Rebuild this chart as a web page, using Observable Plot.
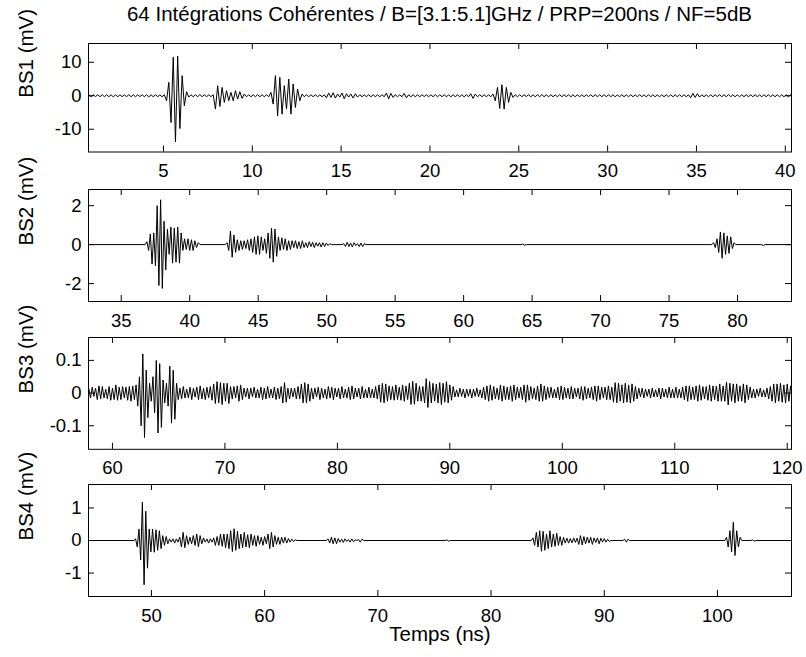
<!DOCTYPE html>
<html><head><meta charset="utf-8">
<script src="https://cdn.jsdelivr.net/npm/d3@7"></script>
<script src="https://cdn.jsdelivr.net/npm/@observablehq/plot@0.6"></script>
<style>
html,body{margin:0;padding:0;background:#fff;}
#fig{position:relative;width:806px;height:657px;background:#fff;font-family:"Liberation Sans",Arial,Helvetica,sans-serif;color:#000;}
#fig svg{position:absolute;left:0;background:transparent;}
#title{position:absolute;left:88px;width:703px;top:4px;text-align:center;font-size:20.5px;line-height:20.5px;white-space:nowrap;}
</style></head>
<body><div id="fig"><div id="title">64 Intégrations Cohérentes / B=[3.1:5.1]GHz / PRP=200ns / NF=5dB</div></div>
<script>
// ---- BS1 : one record, 0.125 ns sampling, mV ----
const bs1Step = 0.125;
const bs1Starts = [0.8];
const bs1Values = [
0.3,-0.3,0.3,-0.25,0.3,-0.3,0.35,-0.3,0.3,-0.3,
0.3,-0.35,0.3,-0.3,0.25,-0.3,0.3,-0.3,0.35,-0.3,
0.3,-0.3,0.3,-0.25,0.3,-0.3,0.3,-0.35,0.3,-0.3,
0.3,-0.3,0.25,-0.3,0.3,-1.5,4,-8,11.5,-13.8,
11.8,-9.8,6,-3,1.2,-0.4,0.3,-0.3,0.3,-0.3,
0.35,-0.3,0.3,-0.3,0.3,-0.25,0.3,-4,3,-3.2,
2.5,-2,1.5,-1.5,1,-1.5,1.5,-1,1.2,-0.8,
0.5,-0.3,0.3,-0.3,0.3,-0.3,0.35,-0.3,0.3,-0.3,
0.3,-0.3,1,-2.5,6,-6,5.5,-5.5,3,-4,
5,-5.5,3.5,-3.5,2,-1.5,0.5,-0.3,0.3,-0.3,
0.3,-0.3,0.3,-0.3,0.25,-0.3,0.3,-0.6,0.8,-0.5,
0.9,-0.7,0.5,-0.4,0.8,-0.9,0.6,-0.4,0.5,-0.7,
0.6,-0.4,0.3,-0.3,0.3,-0.3,0.3,-0.3,0.3,-0.3,
0.3,-0.3,0.3,-0.3,0.8,-0.9,0.7,-0.5,0.3,-0.3,
0.3,-0.3,0.7,-0.6,0.3,-0.3,0.3,-0.3,0.3,-0.3,
0.3,-0.25,0.3,-0.3,0.3,-0.3,0.35,-0.3,0.3,-0.3,
0.3,-0.3,0.25,-0.3,0.3,-0.3,0.3,-0.3,0.3,-0.35,
0.3,-0.3,0.6,-0.8,0.5,-0.3,0.3,-0.3,0.3,-0.3,
0.3,-0.3,0.5,-1.5,2.5,-3.8,3.3,-4,2.5,-2,
1,-0.5,0.3,-0.3,0.3,-0.3,0.3,-0.25,0.3,-0.3,
0.3,-0.3,0.3,-0.3,0.35,-0.3,0.3,-0.3,0.3,-0.3,
0.25,-0.3,0.3,-0.3,0.3,-0.3,0.3,-0.35,0.3,-0.3,
0.3,-0.3,0.3,-0.3,0.3,-0.25,0.3,-0.3,0.3,-0.3,
0.3,-0.3,0.35,-0.3,0.3,-0.3,0.3,-0.3,0.25,-0.3,
0.3,-0.3,0.3,-0.3,0.3,-0.3,0.3,-0.3,0.3,-0.3,
0.3,-0.35,0.3,-0.3,0.3,-0.3,0.25,-0.3,0.3,-0.3,
0.3,-0.3,0.3,-0.3,0.3,-0.3,0.3,-0.3,0.3,-0.3,
0.3,-0.6,0.7,-0.5,0.6,-0.4,0.3,-0.3,0.3,-0.3,
0.3,-0.3,0.3,-0.25,0.3,-0.3,0.3,-0.3,0.35,-0.3,
0.3,-0.3,0.3,-0.3,0.3,-0.3,0.3,-0.3,0.3,-0.3,
0.3,-0.3,0.25,-0.3,0.3,-0.3,0.3,-0.3,0.3,-0.3,
0.3,-0.3,0.3,-0.3,0.3,-0.3,0.3
];
const bs1XTicks = [5,10,15,20,25,30,35,40];
const bs1YTicks = [-10,0,10];

// ---- BS2 : bursts, 0.125 ns sampling, mV (flat zero between) ----
const bs2Step = 0.125;
const bs2Starts = [36.75, 42.6, 51.125, 64.2, 78.125, 81.75];
const bs2BurstA = [0,0.15,-0.3,0.55,-1.0,0.6,-1.1,2.0,-2.1,2.3,-2.25,1.2,-1.3,0.8,-0.5,0.9,-0.95,0.85,-0.9,0.9,-0.95,0.6,-0.3,0.3,-0.25,0.3,-0.3,0.25,-0.3,0.2,-0.15,0.1,0];
const bs2BurstB = [0,0.1,-0.3,0.7,-0.65,0.5,-0.4,0.25,-0.3,0.2,-0.25,0.2,-0.2,0.25,-0.3,0.3,-0.4,0.4,-0.5,0.45,-0.5,0.4,-0.3,0.3,-0.45,0.6,-0.7,0.85,-0.9,0.8,-0.6,0.4,-0.3,0.35,-0.25,0.3,-0.3,0.2,-0.25,0.2,-0.15,0.2,-0.2,0.15,-0.2,0.2,-0.15,0.1,-0.15,0.15,-0.1,0.12,-0.15,0.1,-0.08,0.1,-0.12,0.1,-0.1,0.08,-0.05,0.05,0];
const bs2BurstC = [0,0.05,-0.1,0.12,-0.1,0.08,-0.12,0.1,-0.05,0.05,-0.1,0.08,-0.1,0.05,0];
const bs2BurstD = [0,0.03,-0.03,0];
const bs2BurstE = [0,0.1,-0.15,0.3,-0.4,0.65,-0.7,0.6,-0.5,0.45,-0.45,0.4,-0.2,0.1,0];
const bs2BurstF = [0,-0.05,0];
const bs2XTicks = [35,40,45,50,55,60,65,70,75,80];
const bs2YTicks = [-2,0,2];

// ---- BS3 : one record, 0.15 ns sampling, mV ----
const bs3Step = 0.15;
const bs3Starts = [57.9];
const bs3Values = [
0.012,-0.015,0.018,-0.01,0.015,-0.02,0.022,-0.018,0.02,-0.015,
0.012,-0.018,0.02,-0.022,0.015,-0.02,0.025,-0.022,0.018,-0.02,
0.02,-0.015,0.018,-0.022,0.02,-0.025,0.022,-0.02,0.025,
-0.04,0.05,-0.1,0.12,-0.136,0.07,-0.075,0.03,-0.025,
0.05,-0.06,0.1,-0.122,0.09,-0.105,0.04,-0.03,
0.03,-0.04,0.082,-0.092,0.07,-0.08,0.03,-0.02,
0.015,-0.018,0.02,-0.015,0.012,-0.015,0.018,-0.02,0.015,-0.012,
0.018,-0.02,0.022,-0.018,0.015,-0.02,0.018,-0.015,0.02,-0.022,
0.028,-0.032,0.035,-0.03,0.032,-0.035,0.03,-0.025,
0.03,-0.032,0.02,-0.018,0.02,-0.015,
0.022,-0.025,0.025,-0.02,
0.015,-0.012,0.015,-0.018,0.015,-0.012,0.018,-0.015,0.012,-0.015,
0.018,-0.02,0.015,-0.018,0.02,-0.015,0.012,-0.015,0.018,-0.02,0.015,-0.018,0.02,
-0.03,0.032,-0.028,
0.015,-0.018,0.015,-0.012,0.015,-0.018,0.02,-0.018,
0.028,-0.03,0.032,-0.03,0.028,-0.025,
0.015,-0.018,0.015,-0.012,0.018,-0.02,0.015,-0.015,0.012,-0.018,
0.02,-0.015,0.018,-0.02,0.015,-0.012,0.015,-0.018,0.02,-0.015,
0.012,-0.015,0.018,-0.02,0.022,-0.018,0.015,-0.012,0.015,-0.018,
0.02,-0.015,0.012,-0.015,0.018,-0.015,0.012,-0.015,0.02,-0.018,
0.025,-0.028,0.03,-0.03,0.028,-0.025,0.022,-0.02,
0.02,-0.022,0.025,-0.02,0.018,-0.022,0.025,-0.025,0.022,-0.02,
0.03,-0.035,0.036,-0.034,0.03,
-0.025,0.022,-0.025,0.02,-0.03,
0.044,-0.044,0.035,
-0.03,0.03,-0.025,0.028,-0.03,0.032,-0.035,0.03,-0.028,0.035,-0.03,0.025,-0.022,0.02,
-0.012,0.01,-0.012,0.015,-0.01,0.012,-0.015,0.012,-0.01,0.012,-0.015,0.012,-0.01,0.015,-0.012,0.01,-0.015,
0.018,-0.02,0.022,-0.025,0.025,-0.022,0.02,-0.018,0.015,-0.02,
0.025,-0.025,0.022,-0.02,0.018,-0.02,0.022,-0.025,0.025,-0.02,
0.018,-0.015,0.018,-0.02,0.025,-0.028,0.025,-0.022,0.02,-0.018,
0.015,-0.02,0.022,-0.025,0.028,-0.025,0.022,-0.02,0.018,-0.015,
0.018,-0.015,0.012,-0.015,0.018,-0.02,0.022,-0.02,0.018,-0.015,
0.015,-0.018,0.02,-0.018,0.015,-0.012,0.015,-0.018,0.02,-0.022,
0.02,-0.018,0.015,-0.015,0.018,-0.02,0.022,-0.025,0.022,-0.02,
0.018,-0.015,0.018,-0.02,0.022,-0.02,0.018,
-0.028,0.032,-0.03,0.03,-0.025,
0.025,-0.03,0.03,-0.028,0.025,-0.03,0.028,-0.025,0.02,-0.018,0.015,
-0.012,0.015,-0.015,0.012,-0.01,0.012,-0.015,0.015,-0.012,0.01,
-0.012,0.015,-0.018,0.015,-0.012,0.012,-0.015,0.018,-0.015,0.012,
-0.015,0.018,-0.015,0.012,-0.015,0.018,
-0.02,0.022,-0.025,0.022,-0.02,0.018,-0.02,0.022,-0.025,0.025,
-0.022,0.02,-0.018,0.02,-0.022,0.025,-0.025,0.022,-0.02,0.022,
-0.025,0.028,-0.025,0.022,-0.025,
0.034,-0.036,0.03,
-0.025,0.028,-0.03,0.028,-0.025,0.022,-0.025,0.028,-0.03,0.025,-0.02,0.018,
-0.015,0.012,-0.015,0.012,-0.01,0.015,-0.012,0.01,-0.012,0.015,-0.018,0.02,
-0.025,0.028,-0.03,0.028,-0.025,0.03,-0.028,0.025,-0.03,0.028,-0.025,0.022
];
const bs3XTicks = [60,70,80,90,100,110,120];
const bs3YTicks = [-0.1,0,0.1];

// ---- BS4 : bursts, 0.15 ns sampling, mV (flat zero between) ----
const bs4Step = 0.15;
const bs4Starts = [48.45, 65.45, 75.95, 83.55, 91.65, 100.65, 102.95];
const bs4BurstA = [0,0.05,-0.2,0.35,-0.6,1.18,-1.36,0.9,-0.85,0.35,-0.35,0.35,-0.36,0.33,-0.3,0.3,-0.25,0.15,-0.15,0.12,-0.1,0.05,-0.05,0.05,-0.08,0.05,-0.05,0.1,-0.2,0.25,-0.22,0.15,-0.12,0.1,-0.1,0.15,-0.15,0.2,-0.2,0.15,-0.1,0.08,-0.05,0.05,-0.08,0.05,-0.05,0.08,-0.15,0.12,-0.15,0.2,-0.18,0.2,-0.22,0.2,-0.25,0.3,-0.34,0.36,-0.3,0.28,-0.25,0.2,-0.22,0.25,-0.2,0.18,-0.22,0.2,-0.15,0.15,-0.18,0.15,-0.12,0.1,-0.15,0.12,-0.1,0.2,-0.25,0.25,-0.2,0.15,-0.12,0.1,-0.12,0.1,-0.08,0.1,-0.08,0.06,-0.05,0.04,-0.03,0.02,0];
const bs4BurstB = [0,0.05,-0.08,0.1,-0.1,0.08,-0.1,0.06,-0.05,0.04,-0.06,0.05,-0.03,0.03,-0.05,0.05,-0.04,0.02,0,0.03,-0.05,0.04,0];
const bs4BurstC = [0,0.02,-0.02,0];
const bs4BurstD = [0,0.08,-0.15,0.25,-0.2,0.3,-0.33,0.28,-0.3,0.2,-0.25,0.3,-0.2,0.2,-0.18,0.22,-0.15,0.12,-0.15,0.1,-0.08,0.07,-0.08,0.06,-0.07,0.08,-0.06,0.07,-0.12,0.15,-0.14,0.12,-0.1,0.1,-0.08,0.1,-0.12,0.08,-0.06,0.08,-0.1,0.07,-0.05,0.06,-0.05,0.04,-0.03,0];
const bs4BurstE = [0,0.04,-0.05,0.04,0];
const bs4BurstF = [0,0.1,-0.2,0.3,-0.35,0.56,-0.46,0.3,-0.2,0.1,0];
const bs4BurstG = [0,0.02,-0.02,0];
const bs4XTicks = [50,60,70,80,90,100];
const bs4YTicks = [-1,0,1];

const titleText = "64 Intégrations Cohérentes / B=[3.1:5.1]GHz / PRP=200ns / NF=5dB";
const xLabelText = "Temps (ns)";

// ---- layout ----
const W = 806, ML = 88, MR = 15, TICK = 6;
const FONT = "'Liberation Sans', Arial, Helvetica, sans-serif";
const fig = document.getElementById("fig");

function makePanel(cfg) {
  const {starts, bursts, step, xDomain, yDomain, xTicks, yTicks, yLabel, boxTop, boxBottom, xLabel} = cfg;
  const mt = 12, mb = xLabel ? 62 : 34;
  const frameH = boxBottom - boxTop, frameW = W - ML - MR;
  const pts = [{t: xDomain[0], v: 0}];
  starts.forEach((s, b) => bursts[b].forEach((v, k) => pts.push({t: s + k * step, v})));
  pts.push({t: xDomain[1], v: 0});
  const marks = [
    Plot.line(pts, {x: "t", y: "v", stroke: "black", strokeWidth: 1, clip: true}),
    Plot.frame({stroke: "black", strokeWidth: 1}),
    Plot.ruleX(xTicks, {x: d => d, stroke: "black", insetTop: frameH - TICK}),
    Plot.ruleX(xTicks, {x: d => d, stroke: "black", insetBottom: frameH - TICK}),
    Plot.ruleY(yTicks, {y: d => d, stroke: "black", insetRight: frameW - TICK}),
    Plot.ruleY(yTicks, {y: d => d, stroke: "black", insetLeft: frameW - TICK}),
    Plot.axisX(xTicks, {anchor: "bottom", tickSize: 0, tickPadding: 12, tickFormat: d => String(d), label: null, fontSize: 18.5}),
    Plot.axisY(yTicks, {anchor: "left", tickSize: 0, tickPadding: 7, tickFormat: d => String(d), label: null, fontSize: 18.5}),
    Plot.text([yLabel], {text: d => d, frameAnchor: "left", dx: -62, rotate: -90, fontSize: 20.5})
  ];
  if (xLabel) marks.push(Plot.text([xLabel], {text: d => d, frameAnchor: "bottom", dy: 44, fontSize: 20.5}));
  const svg = Plot.plot({
    width: W, height: frameH + mt + mb,
    marginLeft: ML, marginRight: MR, marginTop: mt, marginBottom: mb,
    x: {domain: xDomain}, y: {domain: yDomain},
    style: {fontFamily: FONT, background: "transparent", color: "black", overflow: "visible"},
    marks
  });
  svg.style.top = (boxTop - mt) + "px";
  fig.appendChild(svg);
}

makePanel({starts: bs1Starts, bursts: [bs1Values], step: bs1Step, xDomain: [0.78, 40.35], yDomain: [-16.8, 15.6],
  xTicks: bs1XTicks, yTicks: bs1YTicks, yLabel: "BS1 (mV)", boxTop: 43, boxBottom: 151.5});
makePanel({starts: bs2Starts, bursts: [bs2BurstA, bs2BurstB, bs2BurstC, bs2BurstD, bs2BurstE, bs2BurstF], step: bs2Step,
  xDomain: [32.61, 83.94], yDomain: [-2.92, 2.83], xTicks: bs2XTicks, yTicks: bs2YTicks, yLabel: "BS2 (mV)", boxTop: 189, boxBottom: 301});
makePanel({starts: bs3Starts, bursts: [bs3Values], step: bs3Step, xDomain: [57.87, 120.38], yDomain: [-0.172, 0.170],
  xTicks: bs3XTicks, yTicks: bs3YTicks, yLabel: "BS3 (mV)", boxTop: 336.5, boxBottom: 448.3});
makePanel({starts: bs4Starts, bursts: [bs4BurstA, bs4BurstB, bs4BurstC, bs4BurstD, bs4BurstE, bs4BurstF, bs4BurstG], step: bs4Step,
  xDomain: [44.44, 106.54], yDomain: [-1.72, 1.72], xTicks: bs4XTicks, yTicks: bs4YTicks, yLabel: "BS4 (mV)", boxTop: 483.5, boxBottom: 595.5, xLabel: xLabelText});
</script>
</body></html>
